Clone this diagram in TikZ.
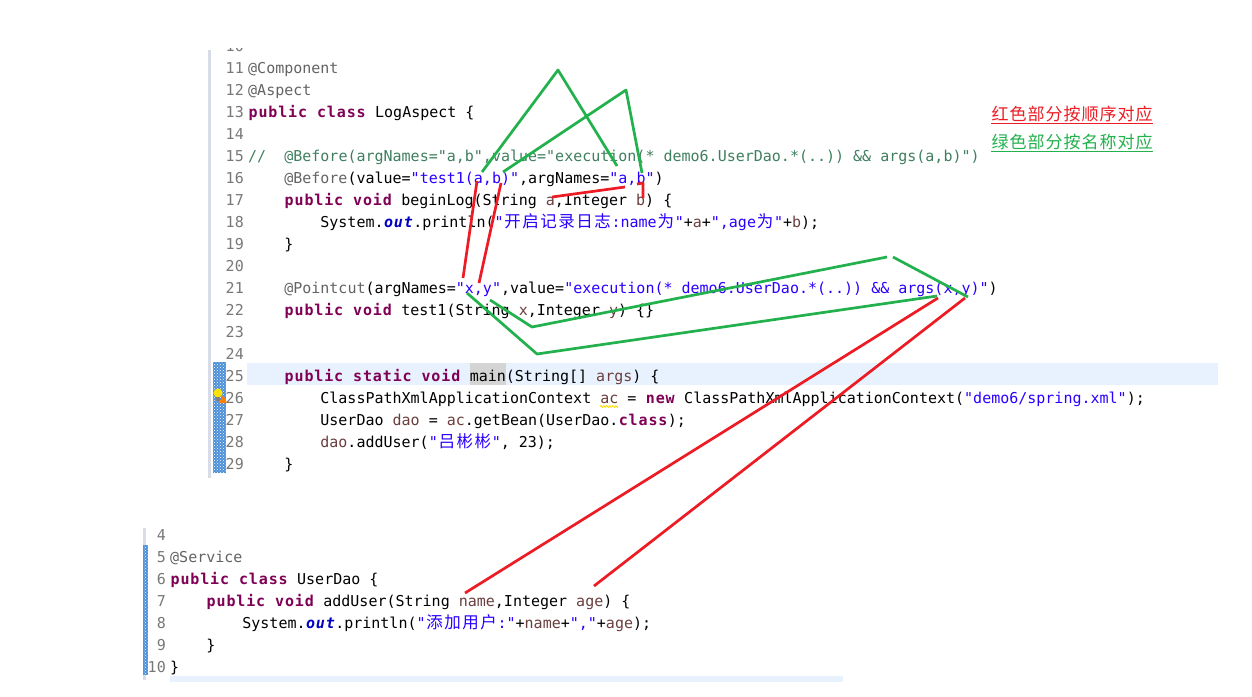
\documentclass[tikz,border=0pt]{standalone}
\usepackage{fontspec}
\setmonofont{DejaVu Sans Mono}
\newfontfamily\cjk[Scale=1.1]{Noto Sans CJK SC}
\usetikzlibrary{positioning,patterns,decorations.pathmorphing}

\definecolor{kwc}{HTML}{7F0055}
\definecolor{anc}{HTML}{646464}
\definecolor{strc}{HTML}{2A00FF}
\definecolor{cmc}{HTML}{3F7F5F}
\definecolor{fldc}{HTML}{0000C0}
\definecolor{varc}{HTML}{6A3E3E}
\definecolor{numc}{HTML}{787878}
\definecolor{penred}{HTML}{ED1C24}
\definecolor{pengreen}{HTML}{22B14C}
\definecolor{curline}{HTML}{E8F2FE}
\definecolor{occur}{HTML}{D4D4D4}
\definecolor{rulerc}{HTML}{D8DCE6}
\definecolor{chgc}{HTML}{4A8FD8}

\frenchspacing
\newcommand\codefont{\ttfamily\fontsize{15}{18}\selectfont}
% bold glyphs are one pixel wider, CJK glyphs take two columns
\def\wideloop#1{\ifx#1\relax\else\makebox[9.9pt]{#1}\expandafter\wideloop\fi}
\def\zhloop#1{\ifx#1\relax\else\makebox[18pt]{#1}\expandafter\zhloop\fi}
\newcommand\kw[1]{{\bfseries\color{kwc}\wideloop#1\relax}}
\newcommand\fld[1]{{\bfseries\itshape\color{fldc}\wideloop#1\relax}}
\newcommand\an[1]{{\color{anc}#1}}
\newcommand\strg[1]{{\color{strc}#1}}
\newcommand\lv[1]{{\color{varc}#1}}
\newcommand\zh[1]{{\cjk\zhloop#1\relax}}

\begin{document}
\begin{tikzpicture}[x=1pt,y=-1pt,
		code/.style={anchor=base west, inner sep=0pt, font=\codefont},
		lnum/.style={anchor=base east, inner sep=0pt, font=\codefont, text=numc},
		legend/.style={anchor=base west, inner sep=0pt, font=\fontsize{15.5}{20}\selectfont},
		redpen/.style={color=penred, line width=2.7pt, line join=round},
		greenpen/.style={color=pengreen, line width=2.7pt, line join=round}]
		\fill[white] (0,0) rectangle (1252,696);
		\useasboundingbox (0,0) rectangle (1252,696);

		% editor backgrounds
		\fill[curline] (247,363) rectangle (1218,385);
		\fill[occur] (469.6,363) rectangle (505.7,385);
		\fill[curline] (170,676) rectangle (843,682);
		\fill[rulerc] (208,50) rectangle (211,478);
		\fill[rulerc] (143,528) rectangle (146,680);

		% change markers
		\fill[chgc] (213,362) rectangle (226,473);
		\fill[pattern=crosshatch dots, pattern color=white] (213,362) rectangle (226,473);
		\fill[chgc] (143,545) rectangle (148,675);
		\fill[pattern=crosshatch dots, pattern color=white] (143,545) rectangle (148,675);

		% warning bulb
		\fill[yellow!85!orange] (218,393) circle[radius=4.5];
		\fill[gray] (216,397) rectangle (220,401);
		\fill[orange] (219,403) -- (227,403) -- (223,395) -- cycle;

		% upper file: line numbers
		\begin{scope}
			\clip (215,48.5) rectangle (250,51.5);
			\node[lnum] (n10) at (244,51) {10};
		\end{scope}
		\node[lnum] (n11) at (244,73) {11};
		\node[lnum] (n12) at (244,95) {12};
		\node[lnum] (n13) at (244,117) {13};
		\node[lnum] (n14) at (244,139) {14};
		\node[lnum] (n15) at (244,161) {15};
		\node[lnum] (n16) at (244,183) {16};
		\node[lnum] (n17) at (244,205) {17};
		\node[lnum] (n18) at (244,227) {18};
		\node[lnum] (n19) at (244,249) {19};
		\node[lnum] (n20) at (244,271) {20};
		\node[lnum] (n21) at (244,293) {21};
		\node[lnum] (n22) at (244,315) {22};
		\node[lnum] (n23) at (244,337) {23};
		\node[lnum] (n24) at (244,359) {24};
		\node[lnum] (n25) at (244,381) {25};
		\node[lnum] (n26) at (244,403) {26};
		\node[lnum] (n27) at (244,425) {27};
		\node[lnum] (n28) at (244,447) {28};
		\node[lnum] (n29) at (244,469) {29};

		% upper file: code
		\node[code] (l11) at (248,73) {\an{@Component}};
		\node[code] (l12) at (248,95) {\an{@Aspect}};
		\node[code] (l13) at (248,117) {\kw{public} \kw{class} LogAspect \{};
		\node[code] (l15) at (248,161) {{\color{cmc}//~~@Before(argNames="a,b",value="execution(* demo6.UserDao.*(..)) \&\& args(a,b)")}};
		\node[code] (l16) at (284.1,183) {\an{@Before}(value=\strg{"test1(a,b)"},argNames=\strg{"a,b"})};
		\node[code] (l17) at (284.1,205) {\kw{public} \kw{void} beginLog(String \lv{a},Integer \lv{b}) \{};
		\node[code] (l18) at (320.2,227) {System.\fld{out}.println(\strg{"\zh{开启记录日志}:name\zh{为}"}+\lv{a}+\strg{",age\zh{为}"}+\lv{b});};
		\node[code] (l19) at (284.1,249) {\}};
		\node[code] (l21) at (284.1,293) {\an{@Pointcut}(argNames=\strg{"x,y"},value=\strg{"execution(* demo6.UserDao.*(..)) \&\& args(x,y)"})};
		\node[code] (l22) at (284.1,315) {\kw{public} \kw{void} test1(String \lv{x},Integer \lv{y}) \{\}};
		\node[code] (l25) at (284.1,381) {\kw{public} \kw{static} \kw{void} main(String[] \lv{args}) \{};
		\node[code] (l26) at (320.2,403) {ClassPathXmlApplicationContext \lv{ac} = \kw{new} ClassPathXmlApplicationContext(\strg{"demo6/spring.xml"});};
		\node[code] (l27) at (320.2,425) {UserDao \lv{dao} = \lv{ac}.getBean(UserDao.\kw{class});};
		\node[code] (l28) at (320.2,447) {\lv{dao}.addUser(\strg{"\zh{吕彬彬}"}, 23);};
		\node[code] (l29) at (284.1,469) {\}};
		\draw[yellow!80!orange, line width=0.8pt, decorate, decoration={zigzag, amplitude=1pt, segment length=3pt}] (600,406.5) -- (618,406.5);

		% lower file
		\node[lnum] (m4) at (166,540) {4};
		\node[lnum] (m5) at (166,562) {5};
		\node[lnum] (m6) at (166,584) {6};
		\node[lnum] (m7) at (166,606) {7};
		\node[lnum] (m8) at (166,628) {8};
		\node[lnum] (m9) at (166,650) {9};
		\node[lnum] (m10) at (166,672) {10};
		\node[code] (b5) at (170,562) {\an{@Service}};
		\node[code] (b6) at (170,584) {\kw{public} \kw{class} UserDao \{};
		\node[code] (b7) at (206.1,606) {\kw{public} \kw{void} addUser(String \lv{name},Integer \lv{age}) \{};
		\node[code] (b8) at (242.2,628) {System.\fld{out}.println(\strg{"\zh{添加用户}:"}+\lv{name}+\strg{","}+\lv{age});};
		\node[code] (b9) at (206.1,650) {\}};
		\node[code] (b10) at (170,672) {\}};

		% legend
		\node[legend, text=penred] (legred) at (991,120) {\zh{红色部分按顺序对应}};
		\node[legend, text=pengreen] (leggreen) at (991,148) {\zh{绿色部分按名称对应}};
		\draw[penred, line width=1pt] ([yshift=-3pt]legred.base west) -- ([yshift=-3pt]legred.base east);
		\draw[pengreen, line width=1pt] ([yshift=-3pt]leggreen.base west) -- ([yshift=-3pt]leggreen.base east);

		% pen strokes
		\coordinate (g1a) at (482,172);
		\coordinate (g1b) at (558,70);
		\coordinate (g1c) at (617,166);
		\coordinate (g2a) at (503,172);
		\coordinate (g2b) at (626,90);
		\coordinate (g2c) at (642,173);
		\coordinate (r1a) at (477,181);
		\coordinate (r1b) at (463,278);
		\coordinate (r2a) at (501,183);
		\coordinate (r2b) at (479,283);
		\coordinate (r3a) at (552,197);
		\coordinate (r3b) at (625,187);
		\coordinate (r4a) at (637,184);
		\coordinate (r4b) at (643,183);
		\coordinate (r4c) at (643,198);
		\coordinate (g3a) at (490,300);
		\coordinate (g3b) at (532,327);
		\coordinate (g3c) at (887,257);
		\coordinate (g3d) at (893,257);
		\coordinate (g3e) at (968,297);
		\coordinate (g4a) at (467,293);
		\coordinate (g4b) at (537,354);
		\coordinate (g4c) at (937,296);
		\coordinate (r5a) at (938,298);
		\coordinate (r5b) at (465,593);
		\coordinate (r6a) at (965,298);
		\coordinate (r6b) at (594,586);

		\draw[greenpen] (g1a) -- (g1b) -- (g1c);
		\draw[greenpen] (g2a) -- (g2b) -- (g2c);
		\draw[greenpen] (g3a) -- (g3b) -- (g3c);
		\draw[greenpen] (g3d) -- (g3e);
		\draw[greenpen] (g4a) -- (g4b) -- (g4c);
		\draw[redpen] (r1a) -- (r1b);
		\draw[redpen] (r2a) -- (r2b);
		\draw[redpen] (r3a) -- (r3b);
		\draw[redpen] (r4a) -- (r4b) -- (r4c);
		\draw[redpen] (r5a) -- (r5b);
		\draw[redpen] (r6a) -- (r6b);
	\end{tikzpicture}
\end{document}
